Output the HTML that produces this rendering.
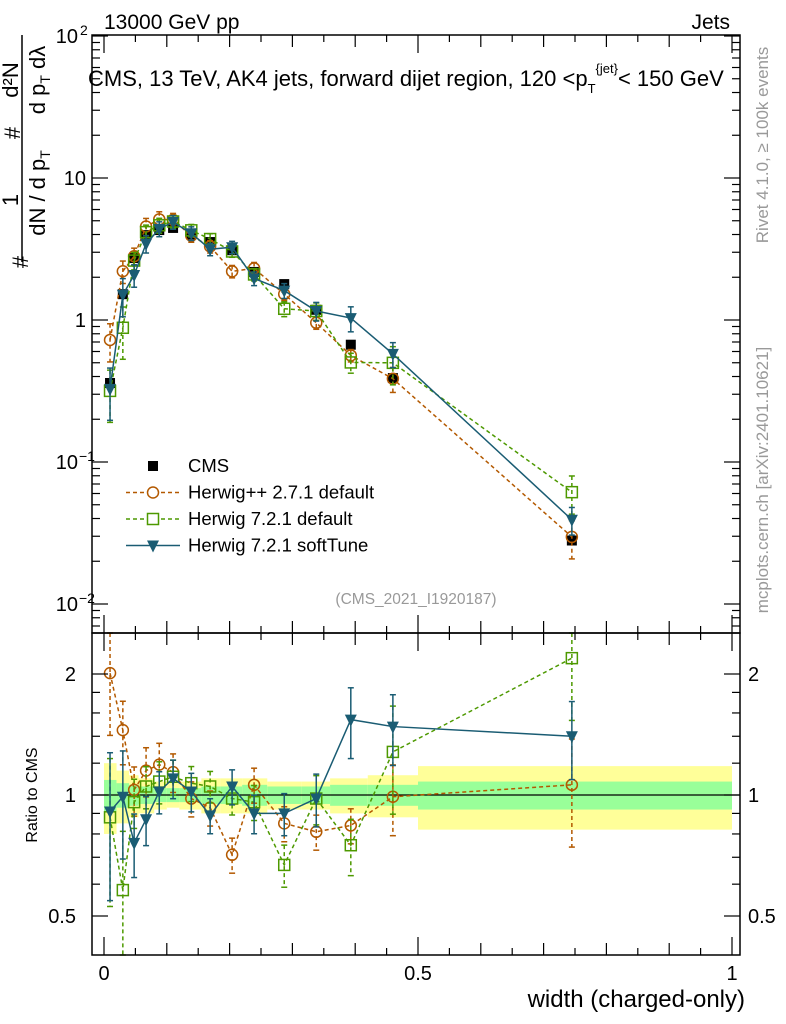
<!DOCTYPE html>
<html><head><meta charset="utf-8"><style>
body{margin:0;background:#fff}
svg{display:block;font-family:"Liberation Sans",sans-serif}
</style></head><body>
<svg id="c" width="786" height="1024" viewBox="0 0 786 1024">
<text x="104" y="29" font-size="21">13000 GeV pp</text>
<text x="730" y="29" font-size="21" text-anchor="end">Jets</text>
<text x="88" y="86" font-size="22">CMS, 13 TeV, AK4 jets, forward dijet region, 120 &lt;p<tspan font-size="13" dy="7">T</tspan><tspan font-size="13" dy="-20">{jet}</tspan><tspan dy="13">&lt; 150 GeV</tspan></text>
<g font-size="22">
<line x1="22" y1="35" x2="22" y2="262" stroke="#000" stroke-width="1.5"/>
<text transform="translate(28,262) rotate(-90)" text-anchor="middle">#</text>
<text transform="translate(18,200) rotate(-90)" text-anchor="middle">1</text>
<text transform="translate(45,193) rotate(-90)" text-anchor="middle">dN / d p<tspan font-size="14" dy="5">T</tspan></text>
<text transform="translate(20,133) rotate(-90)" text-anchor="middle">#</text>
<text transform="translate(18,80) rotate(-90)" text-anchor="middle">d²N</text>
<text transform="translate(45,80) rotate(-90)" text-anchor="middle">d p<tspan font-size="14" dy="5">T</tspan><tspan dy="-5"> dλ</tspan></text>
</g>
<text transform="translate(37,795) rotate(-90)" font-size="16" text-anchor="middle">Ratio to CMS</text>
<text transform="translate(768,145) rotate(-90)" font-size="17" fill="#999" text-anchor="middle">Rivet 4.1.0, ≥ 100k events</text>
<text transform="translate(768,480) rotate(-90)" font-size="17" fill="#999" text-anchor="middle">mcplots.cern.ch [arXiv:2401.10621]</text>
<text x="416" y="604" font-size="15.5" fill="#999" text-anchor="middle">(CMS_2021_I1920187)</text>
<text x="745" y="1007" font-size="24" text-anchor="end">width (charged-only)</text>
<g id="bands"></g><g id="marks"></g><g id="axes"></g><g id="legend"></g>
</svg>
<script>
const xs=[0.0096,0.030,0.048,0.067,0.088,0.110,0.139,0.169,0.204,0.239,0.287,0.338,0.393,0.460,0.745];
const cms=[0.36,1.52,2.73,3.96,4.3,4.45,4.0,3.54,3.1,2.18,1.79,1.18,0.67,0.39,0.028];
const rHpp=[2.01,1.45,1.03,1.15,1.19,1.14,0.98,0.93,0.71,1.06,0.85,0.81,0.84,0.99,1.06];
const rH7=[0.88,0.58,0.96,1.05,1.08,1.11,1.07,1.05,0.98,0.96,0.67,0.98,0.75,1.28,2.19];
const rSoft=[0.91,0.99,0.76,0.87,1.02,1.10,1.02,0.89,1.05,0.90,0.90,0.98,1.54,1.48,1.40];
const eHpp=[0.30,0.18,0.14,0.14,0.13,0.11,0.10,0.10,0.10,0.10,0.10,0.10,0.10,0.20,0.30];
const eH7=[0.40,0.40,0.14,0.12,0.12,0.10,0.10,0.09,0.09,0.10,0.12,0.14,0.16,0.30,0.30];
const eSoft=[0.40,0.30,0.18,0.14,0.12,0.11,0.11,0.10,0.10,0.11,0.12,0.15,0.20,0.20,0.22];
const binEdges=[0,0.02,0.04,0.055,0.08,0.1,0.12,0.155,0.185,0.22,0.26,0.315,0.36,0.42,0.5,1.0];
const band1=[0.09,0.07,0.06,0.05,0.04,0.04,0.04,0.05,0.05,0.06,0.05,0.05,0.06,0.06,0.08];
const band2=[0.20,0.15,0.12,0.10,0.08,0.07,0.08,0.10,0.10,0.10,0.08,0.08,0.10,0.12,0.18];
const NS='http://www.w3.org/2000/svg';
const L=92,R=740,T=35,D=633,B=955;
const X=v=>104+628*v;
const Y=v=>320-142*Math.log10(v);
const YR=v=>795-121*Math.log2(v);
function el(p,t,a){const e=document.createElementNS(NS,t);for(const k in a)e.setAttribute(k,a[k]);p.appendChild(e);return e;}
const gB=document.getElementById('bands'),gM=document.getElementById('marks'),gA=document.getElementById('axes'),gL=document.getElementById('legend');
for(let i=0;i<band2.length;i++){
 const x0=X(binEdges[i]),x1=X(binEdges[i+1]);
 let r=el(gB,'rect',{x:x0,y:YR(1+band2[i]),width:x1-x0,height:YR(1-band2[i])-YR(1+band2[i]),fill:'#ffff99'});
 
 
 r=el(gB,'rect',{x:x0,y:YR(1+band1[i]),width:x1-x0,height:YR(1-band1[i])-YR(1+band1[i]),fill:'#99ff99'});
 
 
}
let ln=el(gB,'line',{x1:L,x2:R,y1:YR(1),y2:YR(1),stroke:'#000','stroke-width':1.2});


function clampR(y){return Math.max(D,Math.min(B,y));}
function series(name,vals,errs,color,dash,marker,isRatio){
 const g=el(gM,'g',{});
 
 
 const yf=isRatio?(v=>clampR(YR(v))):Y;
 const pts=xs.map((x,i)=>[X(x),yf(vals[i])]);
 if(dash!==null){el(g,'polyline',{points:pts.map(p=>p.join(',')).join(' '),fill:'none',stroke:color,'stroke-width':1.5,'stroke-dasharray':dash});}
 xs.forEach((x,i)=>{
  const px=X(x),v=vals[i];
  if(errs){
   const y1=yf(v*(1+errs[i])),y2=yf(Math.max(v*(1-errs[i]),1e-4));
   el(g,'line',{x1:px,x2:px,y1:y1,y2:y2,stroke:color,'stroke-width':1.5,'stroke-dasharray':dash||'none'});
   el(g,'line',{x1:px-3,x2:px+3,y1:y1,y2:y1,stroke:color,'stroke-width':1.5});
   el(g,'line',{x1:px-3,x2:px+3,y1:y2,y2:y2,stroke:color,'stroke-width':1.5});
  }
  const py=yf(v);
  let m;
  if(marker==='sq')m=el(g,'rect',{x:px-5,y:py-5,width:10,height:10,fill:'#000'});
  else if(marker==='circ')m=el(g,'circle',{cx:px,cy:py,r:5.5,fill:'none',stroke:color,'stroke-width':1.5});
  else if(marker==='osq')m=el(g,'rect',{x:px-5.5,y:py-5.5,width:11,height:11,fill:'none',stroke:color,'stroke-width':1.5});
  else m=el(g,'path',{d:`M${px-6},${py-5}L${px+6},${py-5}L${px},${py+7}Z`,fill:color});
  
  
 });
}
const cHpp='#b35900',cH7='#4d9900',cSoft='#1a5c73';
series('cms-data',cms,null,'#000',null,'sq',false);
series('herwigpp-main',cms.map((c,i)=>c*rHpp[i]),eHpp,cHpp,'4,3','circ',false);
series('herwig7-default-main',cms.map((c,i)=>c*rH7[i]),eH7,cH7,'4,3','osq',false);
series('herwig7-softtune-main',cms.map((c,i)=>c*rSoft[i]),eSoft,cSoft,'','tri',false);
series('herwigpp-ratio',rHpp,eHpp,cHpp,'4,3','circ',true);
series('herwig7-default-ratio',rH7,eH7,cH7,'4,3','osq',true);
series('herwig7-softtune-ratio',rSoft,eSoft,cSoft,'','tri',true);
el(gA,'rect',{x:L,y:T,width:R-L,height:D-T,fill:'none',stroke:'#000','stroke-width':1.5});
el(gA,'rect',{x:L,y:D,width:R-L,height:B-D,fill:'none',stroke:'#000','stroke-width':1.5});
function tk(x1,y1,x2,y2){el(gA,'line',{x1,y1,x2,y2,stroke:'#000','stroke-width':1.2});}
for(let e=-3;e<=2;e++){for(let m=1;m<10;m++){const v=m*Math.pow(10,e);const y=Y(v);if(y<T||y>D)continue;const len=m===1?16:8;tk(L,y,L+len,y);tk(R,y,R-len,y);}}
const ylabs=[[100,'10','2'],[10,'10',''],[1,'1',''],[0.1,'10','−1'],[0.01,'10','−2']];
ylabs.forEach(([v,b,e])=>{const t=el(gA,'text',{x:e?78:86,y:Y(v)+7,'font-size':20,'text-anchor':'end'});t.textContent=b;
 
 if(e){const s=el(gA,'text',{x:e==='2'?80:79,y:Y(v)-1,'font-size':14});s.textContent=e;}});
[0.5,0.6,0.7,0.8,0.9,1,1.2,1.4,1.6,1.8,2].forEach(v=>{const y=YR(v);const len=(v===0.5||v===1||v===2)?16:8;tk(L,y,L+len,y);tk(R,y,R-len,y);});
[[2,'2'],[1,'1'],[0.5,'0.5']].forEach(([v,s])=>{
 let t=el(gA,'text',{x:76,y:YR(v)+7,'font-size':20,'text-anchor':'end'});t.textContent=s;
 
 t=el(gA,'text',{x:748,y:YR(v)+7,'font-size':20});t.textContent=s;
 });
for(let i=0;i<=20;i++){const v=i*0.05;const x=X(v);const len=i%10===0?18:(i%2===0?12:7);
 tk(x,B,x,B-len);tk(x,D,x,D-len);tk(x,D,x,D+len);tk(x,T,x,T+len);}
[[0,'0'],[0.5,'0.5'],[1,'1']].forEach(([v,s])=>{const t=el(gA,'text',{x:X(v),y:980,'font-size':20,'text-anchor':'middle'});t.textContent=s;
 });
const leg=[['CMS','#000',null,'sq'],['Herwig++ 2.7.1 default',cHpp,'4,3','circ'],['Herwig 7.2.1 default',cH7,'4,3','osq'],['Herwig 7.2.1 softTune',cSoft,'','tri']];
leg.forEach((l,i)=>{const y=466+i*26.5;const g=el(gL,'g',{});
 
 if(l[2]!==null)el(g,'line',{x1:126,x2:180,y1:y,y2:y,stroke:l[1],'stroke-width':1.5,'stroke-dasharray':l[2]});
 const px=153;
 if(l[3]==='sq')el(g,'rect',{x:px-5,y:y-5,width:10,height:10,fill:'#000'});
 else if(l[3]==='circ')el(g,'circle',{cx:px,cy:y,r:5.5,fill:'#fff',stroke:l[1],'stroke-width':1.5});
 else if(l[3]==='osq')el(g,'rect',{x:px-5.5,y:y-5.5,width:11,height:11,fill:'#fff',stroke:l[1],'stroke-width':1.5});
 else el(g,'path',{d:`M${px-6},${y-5}L${px+6},${y-5}L${px},${y+7}Z`,fill:l[1]});
 const t=el(g,'text',{x:188,y:y+6,'font-size':18.5});t.textContent=l[0];});
</script>
</body></html>
